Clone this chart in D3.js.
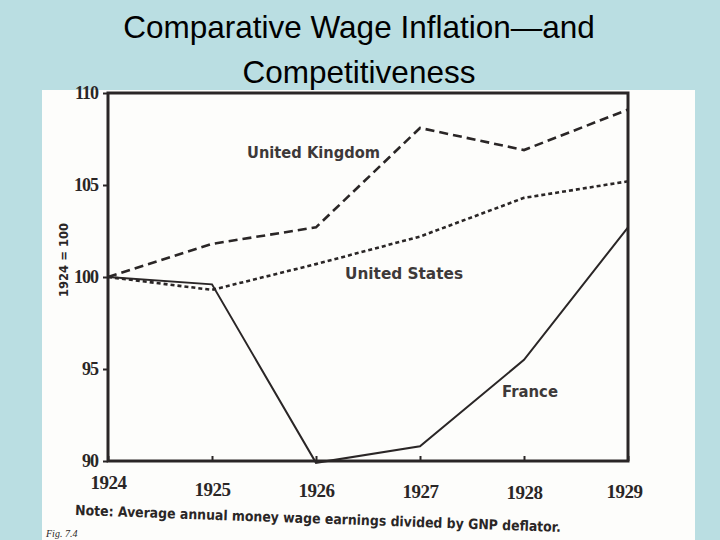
<!DOCTYPE html>
<html><head><meta charset="utf-8">
<script src="https://cdn.jsdelivr.net/npm/d3@7"></script>
<style>html,body{margin:0;padding:0;background:#badee2;}svg{display:block;}</style>
</head><body>
<svg id="c" width="720" height="540"></svg>
<script>
const years = [1924, 1925, 1926, 1927, 1928, 1929];
const ukValues = [100, 101.8, 102.7, 108.1, 106.9, 109.1];
const usValues = [100, 99.3, 100.7, 102.2, 104.3, 105.2];
const franceValues = [100, 99.6, 89.9, 90.8, 95.5, 102.7];
const yTicks = [90, 95, 100, 105, 110];
const seriesNames = ["United Kingdom", "United States", "France"];

const svg = d3.select("#c");
svg.append("rect").attr("width",720).attr("height",540).attr("fill","#badee2");

// Title
const title = svg.append("text").attr("text-anchor","middle")
  .attr("font-family","'Liberation Sans', Arial, sans-serif").attr("font-size",31.5).attr("fill","#000");
title.append("tspan").attr("x",359).attr("y",38).text("Comparative Wage Inflation—and");
title.append("tspan").attr("x",359).attr("y",83).text("Competitiveness");

// scanned page area
svg.append("rect").attr("x",42).attr("y",90).attr("width",653).attr("height",450).attr("fill","#fdfdfb");

const x = d3.scaleLinear().domain([1924,1929]).range([108,628]);
const y = d3.scaleLinear().domain([90,110]).range([461,93]);

const ink = "#2a2626";
const g = svg.append("g");

// frame
g.append("rect").attr("x",x(1924)).attr("y",y(110)).attr("width",x(1929)-x(1924)).attr("height",y(90)-y(110))
  .attr("fill","none").attr("stroke",ink).attr("stroke-width",3);

// y axis
const yAxis = d3.axisLeft(y).tickValues(yTicks).tickSize(5).tickPadding(5).tickFormat(d3.format("d"));
const ya = g.append("g").attr("transform",`translate(${x(1924)},0)`).call(yAxis);
ya.select(".domain").remove();
ya.selectAll("line").attr("stroke",ink).attr("stroke-width",2);
ya.selectAll("text").attr("font-family","'Liberation Serif', serif").attr("font-weight","bold")
  .attr("font-size",18).attr("fill",ink).attr("letter-spacing","-1px").attr("dy","0.3em");

// x axis
const xAxis = d3.axisBottom(x).tickValues(years).tickSize(-5).tickPadding(16).tickFormat(d3.format("d"));
const xa = g.append("g").attr("transform",`translate(0,${y(90)})`).call(xAxis);
xa.select(".domain").remove();
xa.selectAll("line").attr("stroke",ink).attr("stroke-width",2);
const labelDrop = [4, 11, 12, 13, 14, 13];
xa.selectAll(".tick text").attr("font-family","'Liberation Serif', serif").attr("font-weight","bold")
  .attr("font-size",19).attr("fill",ink).attr("letter-spacing","-0.5px")
  .attr("dy",(d,i)=>(0.4*19+labelDrop[i])+"px");
xa.selectAll(".tick").filter(d=>d===1929).select("text").attr("dx",-4);

// y axis title
svg.append("text").attr("transform",`translate(68,260) rotate(-90)`).attr("text-anchor","middle")
  .attr("font-family","'DejaVu Sans', sans-serif").attr("font-weight","bold").attr("font-size",13)
  .attr("fill",ink).attr("textLength",74).attr("lengthAdjust","spacingAndGlyphs").text("1924 = 100");

const line = d3.line().x((d,i)=>x(years[i])).y(d=>y(d));
g.append("path").attr("d",line(ukValues)).attr("fill","none").attr("stroke",ink)
  .attr("stroke-width",2.6).attr("stroke-dasharray","9,5");
g.append("path").attr("d",line(usValues)).attr("fill","none").attr("stroke",ink)
  .attr("stroke-width",2.6).attr("stroke-dasharray","4,3");
g.append("path").attr("d",line(franceValues)).attr("fill","none").attr("stroke",ink)
  .attr("stroke-width",2);

// series labels
const labFont = "'DejaVu Sans', sans-serif";
const labels = [
  {t:seriesNames[0], x:247, y:158, w:133},
  {t:seriesNames[1], x:345, y:279, w:118},
  {t:seriesNames[2], x:502, y:397, w:56}
];
g.selectAll("text.lab").data(labels).enter().append("text").attr("class","lab")
  .attr("x",d=>d.x).attr("y",d=>d.y).attr("textLength",d=>d.w).attr("lengthAdjust","spacingAndGlyphs")
  .attr("font-family",labFont).attr("font-weight","bold").attr("font-size",15).attr("fill","#3d3939").text(d=>d.t);

// note
svg.append("text").attr("transform","translate(75,515) rotate(2)")
  .attr("font-family",labFont).attr("font-weight","bold").attr("font-size",14).attr("fill","#2a2626")
  .attr("textLength",486).attr("lengthAdjust","spacingAndGlyphs")
  .text("Note: Average annual money wage earnings divided by GNP deflator.");
svg.append("text").attr("x",46).attr("y",537).attr("font-family","'Liberation Serif', serif")
  .attr("font-style","italic").attr("font-size",10).attr("fill","#2a2626").text("Fig. 7.4");
</script>
</body></html>
